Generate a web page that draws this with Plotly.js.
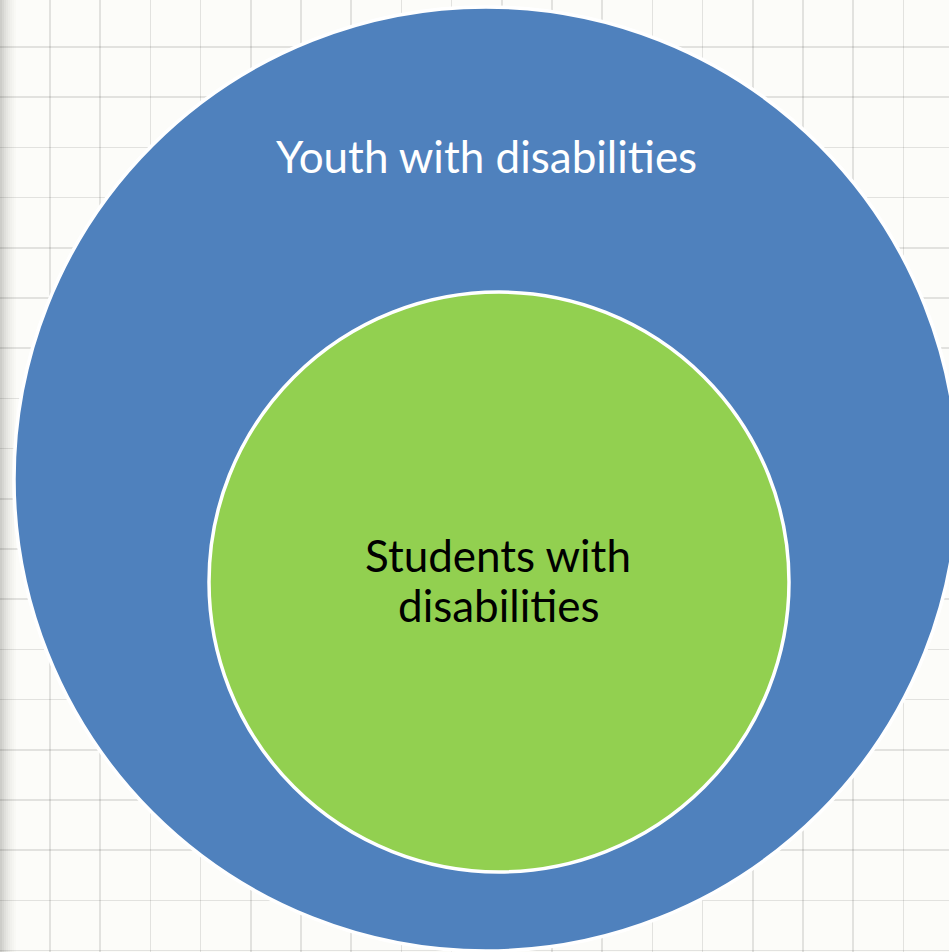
<!DOCTYPE html>
<html>
<head>
<meta charset="utf-8">
<script src="https://cdn.plot.ly/plotly-3.0.1.min.js"></script>
<style>html,body{margin:0;padding:0;background:#fcfcf9;}#chart{width:949px;height:952px;}</style>
</head>
<body>
<div id="chart"></div>
<script>
// Nested circles (Venn-style containment), pixel-based coordinates
const circleNames = ["Youth with disabilities", "Students with disabilities"];
const centersX = [486, 499];
const centersY = [479, 582];
const radii = [472, 290];
const fillColors = ["#4f81bd", "#92d050"];

// text lines of the labels
const labelLines = ["Youth with disabilities", "Students with", "disabilities"];
const labelX = [486, 498, 499];
const labelY = [156, 555, 605];
const labelColors = ["#ffffff", "#000000", "#000000"];

const shapes = [];
// left shadow strip
const shadeCols = ["#cdcdc9", "#d6d6d2", "#dfdfdb", "#e6e6e2", "#ececE8", "#f1f1ed", "#f5f5f1", "#f9f9f5"];
for (let i = 0; i < shadeCols.length; i++) {
  shapes.push({type: "rect", xref: "x", yref: "y", x0: i * 2, x1: i * 2 + 2, y0: 0, y1: 952,
    line: {width: 0}, fillcolor: shadeCols[i], layer: "below"});
}
for (let i = 0; i < radii.length; i++) {
  shapes.push({type: "circle", xref: "x", yref: "y",
    x0: centersX[i] - radii[i], x1: centersX[i] + radii[i],
    y0: centersY[i] - radii[i], y1: centersY[i] + radii[i],
    fillcolor: fillColors[i], line: {color: "#ffffff", width: 3.5}, layer: "above"});
}

const annotations = labelLines.map((t, i) => ({
  x: labelX[i], y: labelY[i], xref: "x", yref: "y", text: t, showarrow: false,
  font: {family: "Lato, 'Open Sans', sans-serif", size: 44, color: labelColors[i]},
  align: "center"
}));

const layout = {
  width: 949, height: 952,
  margin: {l: 0, r: 0, t: 0, b: 0},
  paper_bgcolor: "#fcfcf9", plot_bgcolor: "#fcfcf9",
  showlegend: false,
  xaxis: {range: [0, 949], showgrid: true, gridcolor: "rgba(0,0,0,0.10)", gridwidth: 1.5,
    tick0: 50, dtick: 50.2, zeroline: false, showticklabels: false, ticks: "", fixedrange: true},
  yaxis: {range: [952, 0], showgrid: true, gridcolor: "rgba(0,0,0,0.10)", gridwidth: 1.5,
    tick0: 47, dtick: 50.2, zeroline: false, showticklabels: false, ticks: "", fixedrange: true},
  shapes: shapes,
  annotations: annotations
};

Plotly.newPlot("chart", [{x: [], y: [], type: "scatter", hoverinfo: "skip", name: circleNames.join(" / ")}], layout,
  {displayModeBar: false, staticPlot: true});
</script>
</body>
</html>
